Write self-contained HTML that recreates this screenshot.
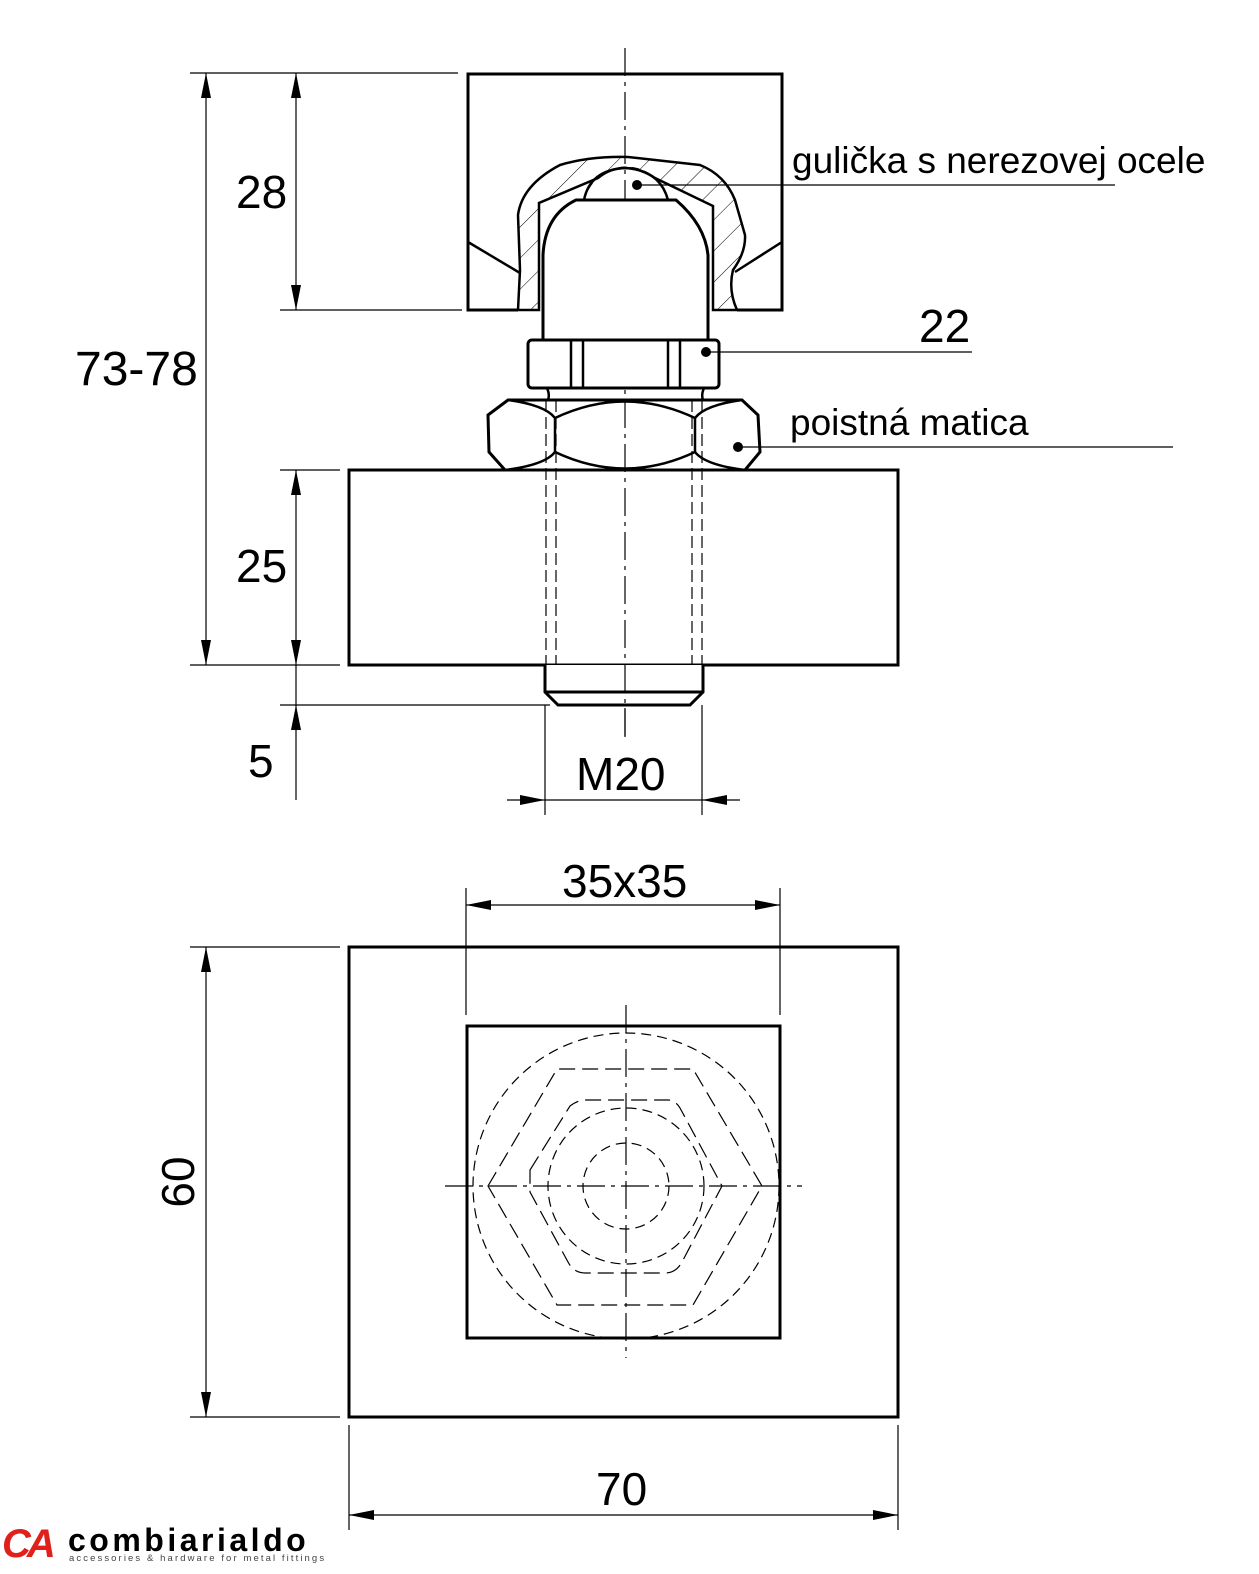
<!DOCTYPE html>
<html><head><meta charset="utf-8"><style>html,body{margin:0;padding:0;background:#fff}svg{display:block}text{font-family:"Liberation Sans",sans-serif;fill:#000}</style></head><body>
<svg width="1259" height="1574" viewBox="0 0 1259 1574" xmlns="http://www.w3.org/2000/svg">
<defs>
<pattern id="h" width="22" height="22" patternUnits="userSpaceOnUse" patternTransform="rotate(45)"><line x1="0" y1="0" x2="0" y2="22" stroke="#000" stroke-width="1"/></pattern>
</defs>
<g fill="none" stroke="#000">
<line x1="625" y1="48" x2="625" y2="740" stroke-width="1.2" stroke-dasharray="28,6,4,6"/>
<path d="M518,310 L468,310 L468,74 L782,74 L782,310 L737,310" stroke-width="3"/>
<line x1="468" y1="242" x2="520" y2="273" stroke-width="2.5"/>
<line x1="782" y1="242" x2="735" y2="272" stroke-width="2.5"/>
<path d="M518,310 L520,270 L518,215 Q522,185 560,165 Q590,156 628,157 L700,165 Q725,175 735,200 L745,235 Q746,252 733,270 Q728,290 737,310 L713,310 L713,206 L655,178 Q640,168 625,168 Q610,168 598,178 L539,203 L539,310 Z" fill="url(#h)" stroke-width="2.5"/>
<path d="M584,200 Q590,170 625,168 Q660,170 668,200" stroke-width="2.5"/>
<circle cx="626" cy="210" r="43" stroke-width="1" stroke-dasharray="8,5"/>
<path d="M543,340 L543,255 Q545,215 576,200 L676,200 Q705,225 708,255 L708,340" stroke-width="3" fill="#fff"/>
<rect x="528" y="340" width="191" height="48" rx="4" stroke-width="3" fill="#fff"/>
<line x1="571" y1="340" x2="571" y2="388" stroke-width="2.5"/>
<line x1="583" y1="340" x2="583" y2="388" stroke-width="2.5"/>
<line x1="668" y1="340" x2="668" y2="388" stroke-width="2.5"/>
<line x1="680" y1="340" x2="680" y2="388" stroke-width="2.5"/>
<path d="M547,388 Q550,395 548,400 M704,388 Q701,395 703,400" stroke-width="2.5"/>
<path d="M508,400 L742,400 L758,415 L760,452 L745,470 L505,470 L489,452 L488,415 Z" stroke-width="3"/>
<path d="M555,418 L555,452 M695,418 L695,452" stroke-width="2.5"/>
<path d="M555,418 Q625,385 695,418 M555,452 Q625,485 695,452" stroke-width="2.5"/>
<path d="M508,400 Q545,405 555,418 M742,400 Q705,405 695,418 M505,470 Q545,465 555,452 M745,470 Q705,465 695,452" stroke-width="2.5"/>
<rect x="349" y="470" width="549" height="195" stroke-width="3"/>
<g stroke-width="1.2" stroke-dasharray="12,5">
<line x1="546" y1="400" x2="546" y2="665"/><line x1="556" y1="400" x2="556" y2="692"/>
<line x1="692" y1="400" x2="692" y2="692"/><line x1="702" y1="400" x2="702" y2="665"/>
</g>
<path d="M545,665 L545,692 L558,705 L690,705 L703,692 L703,665" stroke-width="3" fill="#fff"/>
<line x1="545" y1="692" x2="703" y2="692" stroke-width="3"/>
<line x1="625" y1="665" x2="625" y2="740" stroke-width="1.2" stroke-dasharray="28,6,4,6"/>
<g stroke-width="1.2">
<line x1="190" y1="73" x2="458" y2="73"/>
<line x1="280" y1="310" x2="462" y2="310"/>
<line x1="280" y1="470" x2="340" y2="470"/>
<line x1="190" y1="665" x2="340" y2="665"/>
<line x1="280" y1="705" x2="550" y2="705"/>
<line x1="206" y1="73" x2="206" y2="665"/>
<line x1="296" y1="73" x2="296" y2="310"/>
<line x1="296" y1="470" x2="296" y2="800"/>
<line x1="545" y1="705" x2="545" y2="815"/>
<line x1="702" y1="705" x2="702" y2="815"/>
<line x1="507" y1="800" x2="740" y2="800"/>
<line x1="637" y1="185" x2="1115" y2="185"/>
<line x1="705" y1="352" x2="972" y2="352"/>
<line x1="737" y1="447" x2="1173" y2="447"/>
</g>
</g>
<g fill="#000">
<path d="M206,73 l-5,25 h10z M206,665 l-5,-25 h10z"/>
<path d="M296,73 l-5,25 h10z M296,310 l-5,-25 h10z"/>
<path d="M296,470 l-5,25 h10z M296,665 l-5,-25 h10z"/>
<path d="M296,705 l-5,25 h10z"/>
<path d="M545,800 l-25,-5 v10z M702,800 l25,-5 v10z"/>
<circle cx="637" cy="185" r="5"/><circle cx="706" cy="352" r="5"/><circle cx="738" cy="447" r="5"/>
</g>
<g font-size="46">
<text x="236" y="208">28</text>
<text x="75" y="385" font-size="48">73-78</text>
<text x="236" y="582">25</text>
<text x="248" y="777">5</text>
<text x="576" y="790">M20</text>
<text x="919" y="342">22</text>
<text x="562" y="897">35x35</text>
<text x="596" y="1505">70</text>
<text transform="translate(194,1182) rotate(-90)" text-anchor="middle">60</text>
</g>
<text x="792" y="173" font-size="37">gulička s nerezovej ocele</text>
<text x="790" y="435" font-size="37">poistná matica</text>
<g fill="none" stroke="#000">
<rect x="349" y="947" width="549" height="470" stroke-width="3"/>
<rect x="467" y="1026" width="313" height="312" stroke-width="3"/>
<g stroke-width="1.2" stroke-dasharray="10,6">
<circle cx="626" cy="1186" r="153"/>
<path d="M488,1186 L557,1069 L693,1069 L762,1186 L693,1305 L557,1305 Z" stroke-dasharray="16,7"/>
<path d="M530,1170 L570,1106 Q578,1100 585,1100 L668,1100 Q675,1100 680,1108 L722,1186 L682,1262 Q676,1273 665,1273 L585,1273 Q574,1273 568,1262 L530,1192 Z" stroke-dasharray="16,7"/>
<circle cx="626" cy="1186" r="78"/>
<circle cx="626" cy="1186" r="43"/>
</g>
<g stroke-width="1.2" stroke-dasharray="28,6,4,6">
<line x1="445" y1="1186" x2="802" y2="1186"/>
<line x1="626" y1="1005" x2="626" y2="1358"/>
</g>
<g stroke-width="1.2">
<line x1="466" y1="888" x2="466" y2="1015"/>
<line x1="780" y1="888" x2="780" y2="1015"/>
<line x1="466" y1="905" x2="780" y2="905"/>
<line x1="190" y1="947" x2="340" y2="947"/>
<line x1="190" y1="1417" x2="340" y2="1417"/>
<line x1="206" y1="947" x2="206" y2="1417"/>
<line x1="349" y1="1425" x2="349" y2="1530"/>
<line x1="898" y1="1425" x2="898" y2="1530"/>
<line x1="349" y1="1515" x2="898" y2="1515"/>
</g>
</g>
<g fill="#000">
<path d="M466,905 l25,-5 v10z M780,905 l-25,-5 v10z"/>
<path d="M206,947 l-5,25 h10z M206,1417 l-5,-25 h10z"/>
<path d="M349,1515 l25,-5 v10z M898,1515 l-25,-5 v10z"/>
</g>
<text x="2" y="1557" font-size="40" font-weight="bold" font-style="italic" style="fill:#e0201b" letter-spacing="-4">CA</text>
<text x="68" y="1551" font-size="32" font-weight="bold" letter-spacing="3.5">combiarialdo</text>
<text x="69" y="1561" font-size="9.5" letter-spacing="2.1" style="fill:#444">accessories &amp; hardware for metal fittings</text>
</svg>
</body></html>
